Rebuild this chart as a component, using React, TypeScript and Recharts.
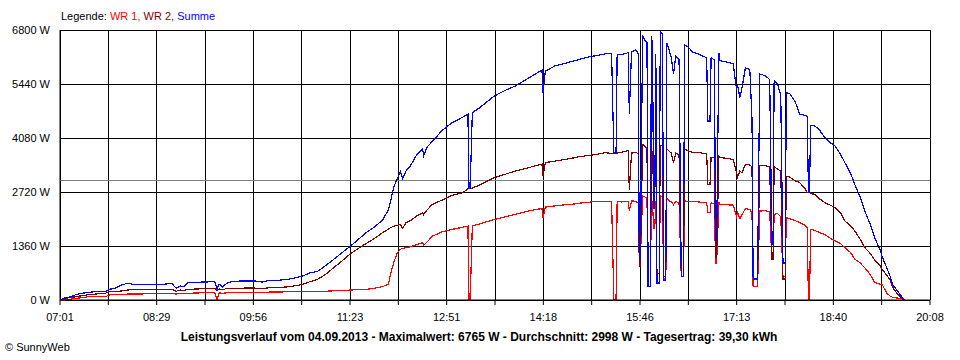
import React from 'react';
import { LineChart, Line, XAxis, YAxis, CartesianGrid, ReferenceLine } from 'recharts';

const times = [
  '07:01','07:05','07:10','07:15','07:21','07:26','07:33','07:42','07:46','07:51','07:57','08:02','08:06','08:13','08:22','08:27','08:36','08:42','08:46','08:50','08:53','08:57','09:08','09:21','09:23','09:25','09:28','09:32','09:37','09:48','09:57','10:04','10:11','10:20','10:27','10:34','10:40','10:47','10:54','11:01','11:08','11:16','11:23','11:31','11:39','11:46','11:53','11:58','12:00','12:03','12:06','12:09','12:11','12:14','12:18','12:24','12:29','12:30','12:33','12:38','12:47','12:56','13:05','13:10','13:11','13:12','13:14','13:21','13:34','13:43','13:53','14:02','14:11','14:17','14:18','14:20','14:29','14:38','14:44','14:51','14:59','15:07','15:14','15:20','15:22','15:24','15:25','15:29','15:35','15:36','15:38','15:42','15:44','15:45','15:46','15:48','15:50','15:52','15:53','15:55','15:56','15:57','15:58','15:59','16:00','16:01','16:03','16:04','16:06','16:07','16:09','16:10','16:12','16:14','16:16','16:18','16:21','16:23','16:25','16:26','16:29','16:33','16:38','16:42','16:46','16:47','16:49','16:50','16:53','16:54','16:55','16:57','16:58','17:03','17:10','17:13','17:14','17:16','17:18','17:21','17:25','17:27','17:28','17:32','17:34','17:39','17:43','17:45','17:46','17:47','17:50','17:53','17:55','17:57','17:58','18:01','18:06','18:10','18:15','18:17','18:18','18:19','18:20','18:24','18:28','18:33','18:37','18:42','18:47','18:51','18:56','19:00','19:05','19:09','19:14','19:18','19:23','19:25','19:29','19:32','19:34','19:38','19:42','19:44','19:45'
];

const wr1 = [
  0,0,20,40,60,80,80,80,130,130,140,150,150,150,160,170,170,170,150,170,160,170,180,180,0,180,170,180,190,190,190,190,200,200,210,210,210,215,220,220,230,240,250,260,270,300,340,400,650,950,1180,1280,1300,1320,1340,1400,1440,1380,1460,1610,1720,1780,1830,1860,0,0,1870,1920,2030,2090,2160,2220,2280,2300,2070,2340,2370,2400,2410,2440,2460,2490,2480,2470,0,0,2480,2470,2480,2250,2500,2480,2450,1010,1010,2620,2600,2550,340,340,2500,2450,1800,1800,2500,430,430,2620,2600,530,530,2550,2500,2480,2400,2480,2450,590,590,2500,2480,2480,2470,2460,2450,2200,2200,2450,2420,930,930,2470,2410,2400,2390,2100,2200,2050,2150,2300,2280,2200,340,340,2240,2250,2220,1010,1010,2150,2180,2100,590,590,2070,2050,2000,1950,1880,1820,0,0,1780,1750,1700,1650,1570,1490,1420,1320,1200,1030,930,810,640,440,400,380,170,100,70,50,40,0,0
];

const wr2 = [
  0,40,60,80,110,130,150,170,210,210,230,250,260,260,270,270,270,270,220,250,240,270,280,290,240,280,260,290,295,300,300,290,310,320,330,360,390,460,520,640,800,980,1150,1300,1440,1560,1700,1780,1820,1860,1880,1900,1800,1950,2000,2120,2200,2150,2270,2410,2520,2640,2700,2800,2800,2800,2820,2900,3080,3160,3250,3310,3380,3420,3120,3460,3500,3540,3570,3610,3640,3670,3710,3690,3700,3700,3700,3720,3760,2770,3700,3720,3680,840,840,3920,3880,3800,340,340,3800,3700,2700,2700,3700,660,660,3900,3880,590,590,3800,3750,3700,3450,3700,3650,600,600,3800,3760,3720,3720,3700,3680,2900,2900,3600,3580,1070,1070,3620,3590,3570,3540,3200,3100,3250,3200,3420,3400,3350,530,530,3390,3380,3350,1010,1010,3360,3300,3250,530,530,3120,3100,3000,2960,2800,2700,2720,2720,2680,2660,2550,2450,2400,2330,2200,1990,1870,1740,1520,1320,1170,1010,860,760,620,500,330,170,60,0,0
];

const summe = [
  0,50,80,130,170,190,210,210,270,300,380,420,400,390,390,380,400,420,300,350,330,445,450,460,275,400,330,420,470,480,480,450,500,500,520,560,600,680,720,860,1010,1190,1340,1530,1720,1850,2020,2270,2480,2850,3050,3230,3050,3250,3380,3670,3800,3630,3850,4000,4280,4470,4600,4680,2800,2800,4720,4850,5140,5270,5390,5540,5690,5790,5220,5760,5900,5960,6010,6060,6120,6160,6200,6200,3700,3700,6190,6180,6230,4690,6250,6300,6200,1050,1050,6650,6550,6480,340,340,6650,6400,2300,2300,6200,430,430,6760,6700,500,500,6460,6300,6100,5700,6150,6050,590,590,6420,6380,6250,6200,6150,6100,4510,4510,6100,6050,1510,1510,6220,6030,6000,5950,5300,5400,5100,5350,5850,5800,4560,550,550,5690,5650,5550,1410,1410,5520,5450,5150,930,930,5220,5200,5000,4680,4650,4630,2720,2720,4400,4380,4280,4090,3980,3880,3670,3460,3200,2910,2580,2240,1900,1570,1250,1070,800,590,400,250,100,30,0
];

const xTickLabels = ['07:01', '08:29', '09:56', '11:23', '12:51', '14:18', '15:46', '17:13', '18:40', '20:08'];
const yTicks = [0, 1360, 2720, 4080, 5440, 6800];
const average = 2998;

const legendItems = [
  { name: 'WR 1', color: '#ff0000' },
  { name: 'WR 2', color: '#800000' },
  { name: 'Summe', color: '#0000ff' },
];

const title = 'Leistungsverlauf vom 04.09.2013 - Maximalwert: 6765 W - Durchschnitt: 2998 W - Tagesertrag: 39,30 kWh';

const toMin = (s: string) => {
  const [h, m] = s.split(':').map(Number);
  return h * 60 + m;
};

const data = times.map((t, i) => ({ t: toMin(t), wr1: wr1[i], wr2: wr2[i], summe: summe[i] }));
const xStart = toMin(xTickLabels[0]);
const xEnd = toMin(xTickLabels[xTickLabels.length - 1]);
const nIntervals = (xTickLabels.length - 1) * 2;
const xTicks = Array.from({ length: nIntervals + 1 }, (_, i) => xStart + ((xEnd - xStart) * i) / nIntervals);

const font = '"Liberation Sans", Arial, sans-serif';

export default function App() {
  return (
    <div style={{ position: 'absolute', left: 0, top: 0, width: 960, height: 360, background: '#fff', fontFamily: font }}>
      <div style={{ position: 'absolute', left: 61, top: 10, fontSize: 11, lineHeight: '13px', whiteSpace: 'pre' }}>
        <span style={{ color: '#000' }}>Legende: </span>
        {legendItems.map((it, i) => (
          <span key={it.name} style={{ color: it.color }}>
            {it.name}
            {i < legendItems.length - 1 ? ', ' : ''}
          </span>
        ))}
      </div>
      <LineChart
        width={960}
        height={360}
        data={data}
        margin={{ top: 30, right: 30, bottom: 30, left: 0 }}
      >
        <CartesianGrid stroke="#000" strokeWidth={1} shapeRendering="crispEdges" />
        <XAxis
          dataKey="t"
          type="number"
          domain={[xStart, xEnd]}
          ticks={xTicks}
          interval={0}
          height={30}
          tickSize={5}
          tickMargin={8}
          axisLine={{ stroke: '#000' }}
          tickLine={{ stroke: '#000' }}
          tick={{ fill: '#000', fontSize: 11, fontFamily: font }}
          tickFormatter={(v: number, i: number) => (i % 2 === 0 ? xTickLabels[i / 2] : '')}
        />
        <YAxis
          type="number"
          domain={[0, 6800]}
          ticks={yTicks}
          interval={0}
          width={60}
          axisLine={{ stroke: '#000' }}
          tickLine={false}
          tickMargin={4}
          tick={{ fill: '#000', fontSize: 11, fontFamily: font }}
          tickFormatter={(v: number) => `${v} W`}
        />
        <ReferenceLine y={average} stroke="#808080" strokeWidth={1} shapeRendering="crispEdges" />
        <Line type="linear" dataKey="wr1" stroke="#ff0000" strokeWidth={1.2} dot={false} isAnimationActive={false} shapeRendering="crispEdges" />
        <Line type="linear" dataKey="wr2" stroke="#800000" strokeWidth={1.2} dot={false} isAnimationActive={false} shapeRendering="crispEdges" />
        <Line type="linear" dataKey="summe" stroke="#0000ff" strokeWidth={1.2} dot={false} isAnimationActive={false} shapeRendering="crispEdges" />
      </LineChart>
      <div style={{ position: 'absolute', left: 0, width: 958, top: 330, textAlign: 'center', fontSize: 12, fontWeight: 'bold', lineHeight: '15px', whiteSpace: 'pre' }}>
        {title}
      </div>
      <div style={{ position: 'absolute', left: 5, top: 341, fontSize: 11, lineHeight: '13px' }}>© SunnyWeb</div>
    </div>
  );
}
